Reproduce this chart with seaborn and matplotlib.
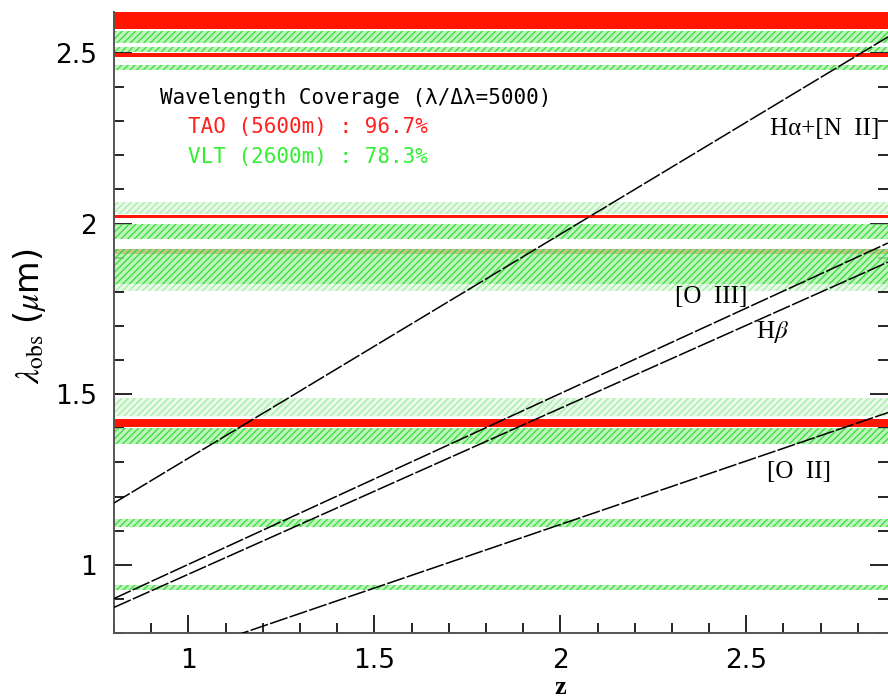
import pandas as pd
import seaborn as sns
import matplotlib.pyplot as plt
from matplotlib.ticker import MultipleLocator, FormatStrFormatter

# redshift range
z_ends = [0.8, 2.881]

# observed wavelength of each line at the two ends of the z range (um)
line_names = ["Ha", "OIII", "Hb", "OII"]
lam_start = [1.181, 0.901, 0.875, 0.671]
lam_end = [2.547, 1.943, 1.887, 1.446]

# TAO (red) bands, lower / upper edges in um
tao_lo = [2.571, 2.488, 2.015, 1.912, 1.403]
tao_hi = [2.620, 2.500, 2.026, 1.926, 1.426]

# VLT (green, hatched) bands
vlt_lo = [2.529, 2.503, 2.450, 1.956, 1.824, 1.353, 1.112, 0.926]
vlt_hi = [2.565, 2.518, 2.465, 2.000, 1.926, 1.400, 1.135, 0.941]

# fainter VLT bands
vlt_faint_lo = [2.029, 1.803, 1.435]
vlt_faint_hi = [2.062, 1.824, 1.488]

# line labels
label_text = ["H\u03b1+[N  II]", "[O  III]", "H$\\beta$", "[O  II]"]
label_z = [2.859, 2.405, 2.569, 2.641]
label_lam = [2.276, 1.785, 1.682, 1.271]
label_ha = ["right", "center", "center", "center"]

sns.set_style("ticks")
plt.rcParams["mathtext.fontset"] = "stix"
plt.rcParams["text.color"] = "black"
plt.rcParams["axes.labelcolor"] = "black"
plt.rcParams["xtick.color"] = "black"
plt.rcParams["ytick.color"] = "black"

fig = plt.figure(figsize=(8.88, 6.99), dpi=100)
ax = fig.add_axes([114 / 888, 66 / 699, 774 / 888, 621 / 699])

for lo, hi in zip(tao_lo, tao_hi):
    ax.axhspan(lo, hi, facecolor="#ff1500", edgecolor="none", lw=0, zorder=1)

for lo, hi in zip(vlt_lo, vlt_hi):
    ax.axhspan(lo, hi, facecolor="#b0f2b0", alpha=0.8, edgecolor="#1edc1e",
               hatch="/////", lw=0, zorder=2)
for lo, hi in zip(vlt_faint_lo, vlt_faint_hi):
    ax.axhspan(lo, hi, facecolor="#dcf8dc", alpha=0.6, edgecolor="#78e678",
               hatch="/////", lw=0, zorder=2)

rows = []
for name, a, b in zip(line_names, lam_start, lam_end):
    rows.append({"line": name, "z": z_ends[0], "lam": a})
    rows.append({"line": name, "z": z_ends[1], "lam": b})
df = pd.DataFrame(rows)

sns.lineplot(data=df, x="z", y="lam", units="line", estimator=None,
             color="black", lw=1.1, linestyle=(0, (12, 1.5)), ax=ax, zorder=3)

for t, x, y, ha in zip(label_text, label_z, label_lam, label_ha):
    ax.text(x, y, t, ha=ha, va="center", fontsize=18,
            family="Liberation Serif", zorder=4)

ax.text(0.924, 2.368, "Wavelength Coverage (\u03bb/\u0394\u03bb=5000)",
        family="DejaVu Sans Mono", fontsize=15, va="center", zorder=4)
ax.text(0.999, 2.282, "TAO (5600m) : 96.7%", color="#ff2020",
        family="DejaVu Sans Mono", fontsize=15, va="center", zorder=4)
ax.text(0.999, 2.194, "VLT (2600m) : 78.3%", color="#33ee33",
        family="DejaVu Sans Mono", fontsize=15, va="center", zorder=4)

ax.set_xlim(0.8, 2.881)
ax.set_ylim(0.8, 2.62)

ax.xaxis.set_major_locator(MultipleLocator(0.5))
ax.xaxis.set_minor_locator(MultipleLocator(0.1))
ax.yaxis.set_major_locator(MultipleLocator(0.5))
ax.yaxis.set_minor_locator(MultipleLocator(0.1))
ax.xaxis.set_major_formatter(FormatStrFormatter("%g"))
ax.yaxis.set_major_formatter(FormatStrFormatter("%g"))

ax.tick_params(axis="both", which="both", direction="in", color="black",
               labelcolor="black", width=1.2, labelsize=19)
ax.tick_params(axis="both", which="major", length=13)
ax.tick_params(axis="both", which="minor", length=7)
ax.tick_params(axis="x", which="major", pad=11)
ax.tick_params(axis="y", which="major", pad=12)
ax.tick_params(axis="y", which="both", right=True)

for s in ["top", "right"]:
    ax.spines[s].set_visible(False)
for s in ["left", "bottom"]:
    ax.spines[s].set_color("#555555")
    ax.spines[s].set_linewidth(1.4)

ax.set_xlabel("z", fontsize=19, fontweight="bold", family="Liberation Serif")
ax.xaxis.set_label_coords(0.576, -0.07)
ax.set_ylabel("$\\lambda_{\\rm obs}$ ($\\mu$m)", fontsize=24)
ax.yaxis.set_label_coords(-0.085, 0.51)

fig.savefig("out.png", dpi=100)
